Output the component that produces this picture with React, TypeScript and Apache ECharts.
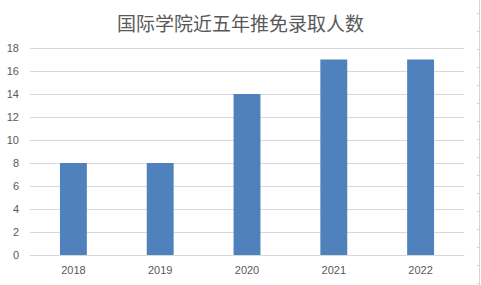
import React, { useEffect, useRef } from "react";
import * as echarts from "echarts";

const title = "国际学院近五年推免录取人数";
const categories = ["2018", "2019", "2020", "2021", "2022"];
const values = [8, 8, 14, 17, 17];
const yMin = 0;
const yMax = 18;
const yStep = 2;

export default function App() {
  const ref = useRef<HTMLDivElement>(null);
  useEffect(() => {
    document.body.style.margin = "0";
    if (!ref.current) return;
    const chart = echarts.init(ref.current, undefined, { renderer: "svg" });
    const rowTicks: any[] = [];
    for (let y = 13; y <= 285; y += 18) {
      rowTicks.push({
        type: "line",
        shape: { x1: 477, y1: y + 0.5, x2: 479, y2: y + 0.5 },
        style: { stroke: "#d4d4d4", lineWidth: 1 },
        silent: true,
      });
    }
    chart.setOption({
      animation: false,
      backgroundColor: "#ffffff",
      title: {
        text: title,
        left: "center",
        top: 8,
        textStyle: {
          fontFamily: "'Noto Sans CJK SC', sans-serif",
          fontSize: 19,
          fontWeight: "normal",
          color: "#595959",
        },
      },
      grid: { left: 30, right: 17, top: 48, bottom: 30, containLabel: false },
      xAxis: {
        type: "category",
        data: categories,
        axisLine: { show: true, lineStyle: { color: "#d9d9d9", width: 1 } },
        axisTick: { show: false },
        axisLabel: {
          color: "#595959",
          fontSize: 11,
          fontFamily: "'Liberation Sans', sans-serif",
          margin: 9,
        },
      },
      yAxis: {
        type: "value",
        min: yMin,
        max: yMax,
        interval: yStep,
        axisLine: { show: false },
        axisTick: { show: false },
        splitLine: { lineStyle: { color: "#d9d9d9", width: 1 } },
        axisLabel: {
          color: "#595959",
          fontSize: 11,
          fontFamily: "'Liberation Sans', sans-serif",
          margin: 11,
        },
      },
      series: [
        {
          type: "bar",
          data: values,
          barWidth: "31%",
          itemStyle: { color: "#4f81bd" },
        },
      ],
      graphic: [
        {
          type: "line",
          shape: { x1: 479.5, y1: 0, x2: 479.5, y2: 285 },
          style: { stroke: "#d4d4d4", lineWidth: 1 },
          silent: true,
        },
        ...rowTicks,
      ],
    });
    return () => chart.dispose();
  }, []);
  return (
    <div
      ref={ref}
      style={{ position: "fixed", left: 0, top: 0, width: 481, height: 285 }}
    />
  );
}
